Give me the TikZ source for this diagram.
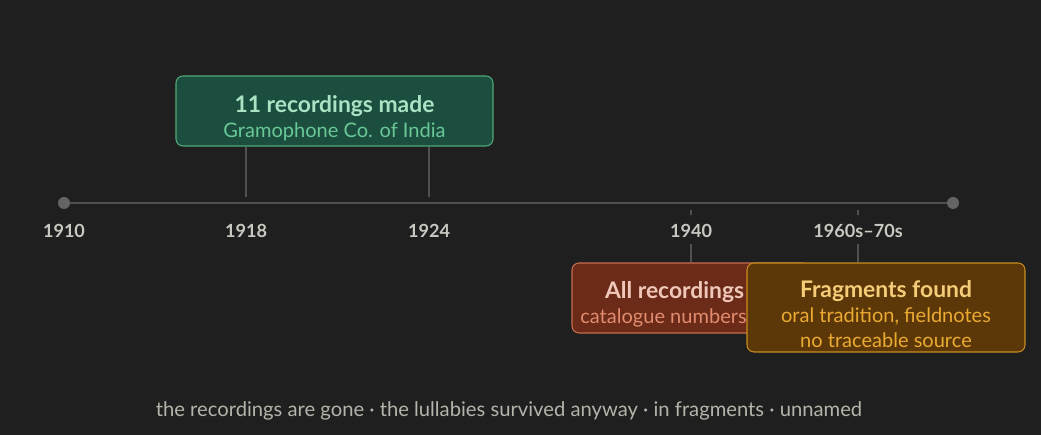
\documentclass[tikz,border=0pt]{standalone}
\usepackage{fontspec}
\setmainfont{Lato}
\usetikzlibrary{positioning}

\definecolor{bgdark}{RGB}{31,31,31}
\definecolor{axisgrey}{RGB}{80,80,80}
\definecolor{dotgrey}{RGB}{100,100,100}
\definecolor{yeartext}{RGB}{200,200,192}
\definecolor{greenfill}{RGB}{28,78,64}
\definecolor{greenline}{RGB}{80,170,120}
\definecolor{greentitle}{RGB}{172,226,196}
\definecolor{greensub}{RGB}{104,200,150}
\definecolor{redfill}{RGB}{108,42,24}
\definecolor{redline}{RGB}{200,110,80}
\definecolor{redtitle}{RGB}{240,200,185}
\definecolor{redsub}{RGB}{225,140,110}
\definecolor{orangefill}{RGB}{92,56,8}
\definecolor{orangeline}{RGB}{200,140,30}
\definecolor{orangetitle}{RGB}{245,205,120}
\definecolor{orangesub}{RGB}{235,170,50}
\definecolor{captiontext}{RGB}{180,180,170}

\newcommand{\evtitle}[2]{{\fontsize{13}{15}\selectfont\bfseries\color{#1}#2}}
\newcommand{\evsub}[2]{{\fontsize{11.4}{14}\selectfont\color{#1}#2}}

\begin{document}
\begin{tikzpicture}[
  event/.style={draw, rectangle, rounded corners=4pt, inner sep=0pt, line width=0.6pt},
  evtext/.style={align=center, inner sep=0pt, font=\fontsize{11.4}{14.2}\selectfont},
  year/.style={text=yeartext, font=\fontsize{10.3}{12}\selectfont\bfseries},
  stem/.style={draw=axisgrey, line width=0.6pt}
]
\fill[bgdark] (0,0) rectangle (20.82,8.7);

% timeline
\coordinate (start) at (1.28,4.64);
\coordinate (end) at (19.06,4.64);
\draw[axisgrey, line width=0.9pt] (start) -- (end);
\fill[dotgrey] (start) circle (0.12);
\fill[dotgrey] (end) circle (0.12);

\node (y1910) [year] at (1.28,4.08) {1910};
\node (y1918) [year] at (4.92,4.08) {1918};
\node (y1924) [year] at (8.58,4.08) {1924};
\node (y1940) [year] at (13.82,4.08) {1940};
\node (y1960) [year] at (17.16,4.08) {1960s–70s};

% events
\node (made) [event, fill=greenfill, draw=greenline, minimum width=6.34cm, minimum height=1.4cm] at (6.69,6.48) {};
\node (madetext) [evtext] at ([yshift=-0.14cm]made.center)
  {\evtitle{greentitle}{11 recordings made}\\ \evsub{greensub}{Gramophone Co. of India}};

\node (lost) [event, fill=redfill, draw=redline, minimum width=4.76cm, minimum height=1.4cm] at (13.82,2.74) {};
\node (losttext) [evtext] at ([xshift=0.1cm, yshift=-0.12cm]lost.center)
  {\evtitle{redtitle}{All recordings lost}\\ \evsub{redsub}{catalogue numbers remain}};

\node (found) [event, fill=orangefill, draw=orangeline, minimum width=5.56cm, minimum height=1.78cm] at (17.72,2.55) {};
\node (foundtext) [evtext] at ([yshift=-0.14cm]found.center)
  {\evtitle{orangetitle}{Fragments found}\\ \evsub{orangesub}{oral tradition, fieldnotes}\\ \evsub{orangesub}{no traceable source}};

% stems
\draw[stem] (made.south -| y1918) -- (4.92,4.76);
\draw[stem] (made.south -| y1924) -- (8.58,4.76);
\draw[stem] (13.82,4.5) -- (13.82,4.4);
\draw[stem] (17.16,4.5) -- (17.16,4.4);
\draw[stem] (y1940.south) -- (y1940 |- lost.north);
\draw[stem] (y1960.south) -- (y1960 |- found.north);

\node (caption) [text=captiontext, font=\fontsize{11.5}{14}\selectfont] at (10.18,0.48)
  {the recordings are gone · the lullabies survived anyway · in fragments · unnamed};
\end{tikzpicture}
\end{document}
